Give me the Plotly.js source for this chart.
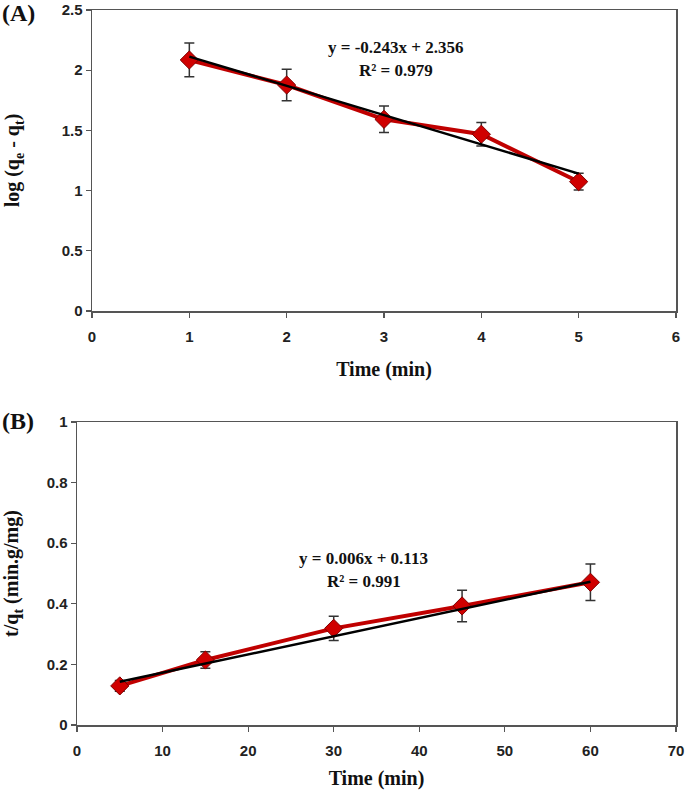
<!DOCTYPE html>
<html>
<head>
<meta charset="utf-8">
<script src="https://cdn.plot.ly/plotly-3.0.1.min.js"></script>
<style>html,body{margin:0;padding:0;background:#fff;}#chart{width:685px;height:790px;}</style>
</head>
<body>
<div id="chart"></div>
<script>
// Panel A data
const timeA = [1, 2, 3, 4, 5];
const logQ = [2.085, 1.877, 1.592, 1.468, 1.074];
const errA = [0.14, 0.13, 0.11, 0.097, 0.07];
const fitAx = [1, 5];
const fitAy = [2.113, 1.141];
const eqA1 = "y = -0.243x + 2.356";
const eqA2 = "R² = 0.979";

// Panel B data
const timeB = [5, 15, 30, 45, 60];
const tOverQ = [0.129, 0.2145, 0.319, 0.393, 0.471];
const errB = [0.018, 0.027, 0.04, 0.052, 0.06];
const fitBx = [5, 60];
const fitBy = [0.143, 0.473];
const eqB1 = "y = 0.006x + 0.113";
const eqB2 = "R² = 0.991";

const ticksAx = [0, 1, 2, 3, 4, 5, 6];
const ticksAy = [0, 0.5, 1, 1.5, 2, 2.5];
const ticksBx = [0, 10, 20, 30, 40, 50, 60, 70];
const ticksBy = [0, 0.2, 0.4, 0.6, 0.8, 1];

const SERIF = "Liberation Serif, Times New Roman, serif";
const SANS = "Liberation Sans, Arial, sans-serif";
const red = "#c00000";

function dataTrace(x, y, err, xa, ya) {
  return {
    x: x, y: y, xaxis: xa, yaxis: ya, type: "scatter", mode: "lines+markers",
    line: {color: red, width: 4},
    marker: {symbol: "diamond", size: 14, color: "#d00000", line: {color: "#800000", width: 1}},
    error_y: {type: "data", array: err, visible: true, color: "#333", thickness: 1.5, width: 5},
    showlegend: false, hoverinfo: "skip"
  };
}
function fitTrace(x, y, xa, ya) {
  return {
    x: x, y: y, xaxis: xa, yaxis: ya, type: "scatter", mode: "lines",
    line: {color: "#000", width: 2.5}, showlegend: false, hoverinfo: "skip"
  };
}

const traces = [
  dataTrace(timeA, logQ, errA, "x", "y"),
  fitTrace(fitAx, fitAy, "x", "y"),
  dataTrace(timeB, tOverQ, errB, "x2", "y2"),
  fitTrace(fitBx, fitBy, "x2", "y2")
];

const axCommon = {
  showline: true, mirror: true, linecolor: "#555", linewidth: 1.5,
  ticks: "outside", ticklen: 5, tickcolor: "#555", tickwidth: 1.2,
  showgrid: false, zeroline: false,
  tickfont: {family: SANS, size: 15, color: "#222", weight: "bold"},
  automargin: false, fixedrange: true
};
const titleFont = {family: SERIF, size: 20, color: "#111", weight: "bold"};
const eqFont = {family: SERIF, size: 17, color: "#111", weight: "bold"};

const layout = {
  width: 685, height: 790,
  margin: {l: 0, r: 0, t: 0, b: 0},
  paper_bgcolor: "#fff", plot_bgcolor: "#fff",
  showlegend: false,
  xaxis: Object.assign({}, axCommon, {
    domain: [92/685, 676/685], anchor: "y", range: [0, 6],
    tickvals: ticksAx, ticktext: ticksAx.map(String), ticklabelstandoff: 6,
    title: {text: "Time (min)", font: titleFont, standoff: 18}
  }),
  yaxis: Object.assign({}, axCommon, {
    domain: [(790-311)/790, (790-10)/790], anchor: "x", range: [0, 2.5],
    tickvals: ticksAy, ticktext: ticksAy.map(String),
    title: {text: "log (q<sub>e</sub> - q<sub>t</sub>)", font: titleFont, standoff: 36}
  }),
  xaxis2: Object.assign({}, axCommon, {
    domain: [77/685, 676/685], anchor: "y2", range: [0, 70],
    tickvals: ticksBx, ticktext: ticksBx.map(String), ticklabelstandoff: 6,
    title: {text: "Time (min)", font: titleFont, standoff: 16}
  }),
  yaxis2: Object.assign({}, axCommon, {
    domain: [(790-725)/790, (790-422)/790], anchor: "x2", range: [0, 1],
    tickvals: ticksBy, ticktext: ticksBy.map(String),
    title: {text: "t/q<sub>t</sub> (min.g/mg)", font: titleFont, standoff: 22}
  }),
  annotations: [
    {xref: "x", yref: "y", x: 3.12, y: 2.19, text: eqA1, showarrow: false, font: eqFont},
    {xref: "x", yref: "y", x: 3.12, y: 2.0, text: eqA2, showarrow: false, font: eqFont},
    {xref: "x2", yref: "y2", x: 33.5, y: 0.551, text: eqB1, showarrow: false, font: eqFont},
    {xref: "x2", yref: "y2", x: 33.5, y: 0.472, text: eqB2, showarrow: false, font: eqFont},
    {xref: "paper", yref: "paper", x: 0, y: (790-13)/790, xanchor: "left", yanchor: "middle",
     text: "(A)", showarrow: false, font: {family: SERIF, size: 24, color: "#111", weight: "bold"}},
    {xref: "paper", yref: "paper", x: 0, y: (790-421)/790, xanchor: "left", yanchor: "middle",
     text: "(B)", showarrow: false, font: {family: SERIF, size: 24, color: "#111", weight: "bold"}}
  ]
};

Plotly.newPlot("chart", traces, layout, {staticPlot: true, displayModeBar: false});
</script>
</body>
</html>
